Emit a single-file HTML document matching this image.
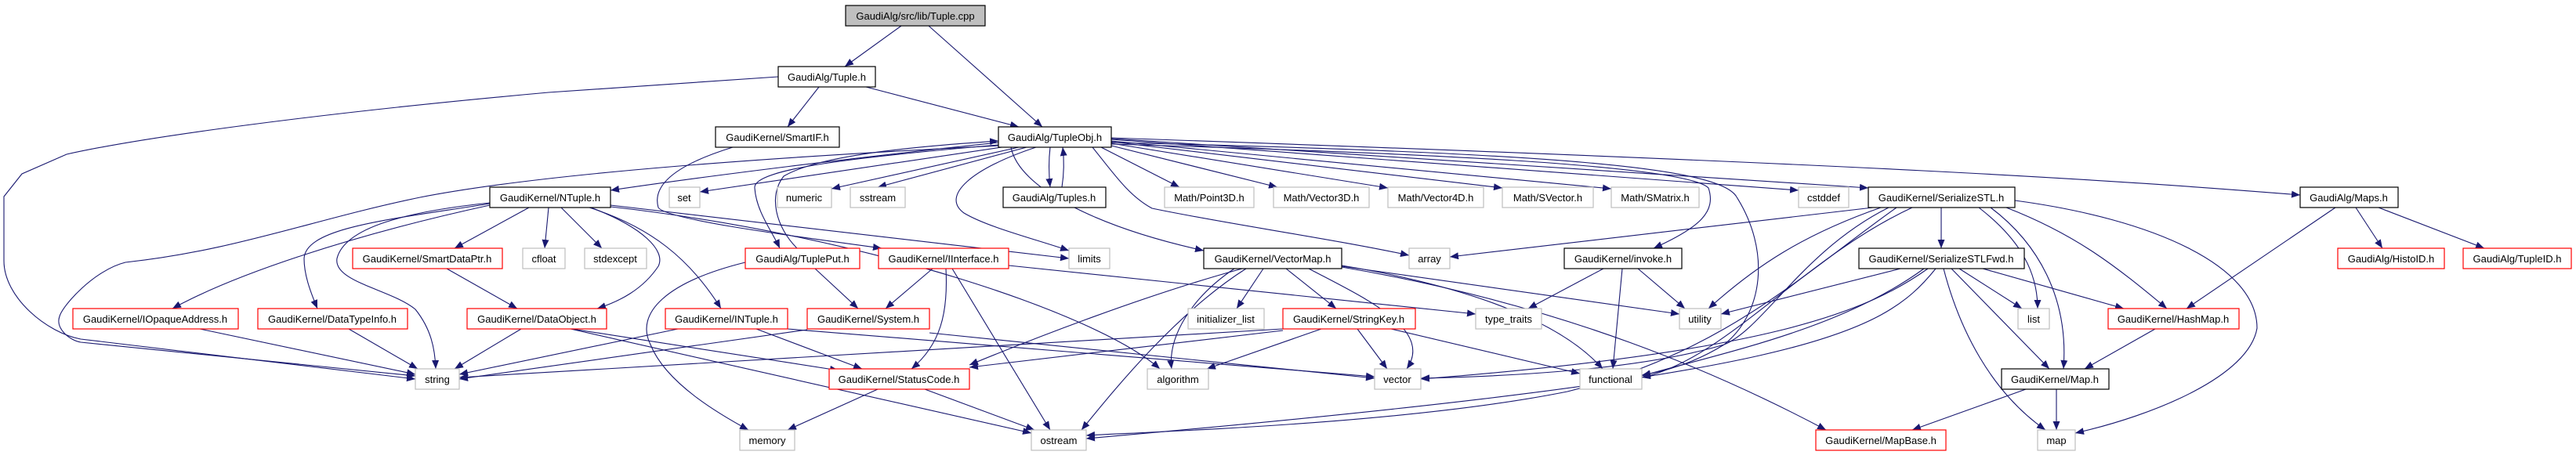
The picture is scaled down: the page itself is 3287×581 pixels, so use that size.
<!DOCTYPE html>
<html><head><meta charset="utf-8"><style>
html,body{margin:0;padding:0;background:#fff;}
svg{display:block;}
text{font-family:"Liberation Sans",Arial,sans-serif;font-size:13px;fill:#000;text-anchor:middle;}
.e{fill:none;stroke:#191970;stroke-width:1.1;marker-end:url(#a);}
.k{fill:#fff;stroke:#000;stroke-width:1.2;}
.r{fill:#fff;stroke:#ff0000;stroke-width:1.2;}
.g{fill:#fff;stroke:#bfbfbf;stroke-width:1.2;}
</style></head><body>
<svg width="3287" height="581" viewBox="0 0 3287 581" xmlns="http://www.w3.org/2000/svg">
<defs><marker id="a" markerUnits="userSpaceOnUse" markerWidth="11" markerHeight="9" refX="11" refY="4.5" orient="auto"><path d="M0,0 L11,4.5 L0,9 z" fill="#191970"/></marker></defs>
<g>
<path class="e" d="M1150,33 L1078,85"/>
<path class="e" d="M1185,33 L1330,162"/>
<path class="e" d="M1045,111 L1005,162"/>
<path class="e" d="M1105,111 L1300,162"/>
<path class="e" d="M993,98 L700,118 C400,145 178,176 85,197 L28,222 L5,251 L5,333 C5,380 60,425 103,433 L530,484"/>
<path class="e" d="M935,188 C880,205 830,230 840,265 C850,280 1000,300 1125,317"/>
<path class="e" d="M1274,182 C1100,200 900,225 779,243"/>
<path class="e" d="M1285,187 L893,245"/>
<path class="e" d="M1300,188 L1061,241"/>
<path class="e" d="M1310,188 L1120,239"/>
<path class="e" d="M1340,188 C1338,205 1338,220 1340,239"/>
<path class="e" d="M1355,239 C1358,220 1358,205 1356,188"/>
<path class="e" d="M1405,188 L1505,239"/>
<path class="e" d="M1418,186 L1630,239"/>
<path class="e" d="M1418,183 L1771,240"/>
<path class="e" d="M1418,181 L1917,240"/>
<path class="e" d="M1418,180 L2056,241"/>
<path class="e" d="M1418,178 L2295,243"/>
<path class="e" d="M1418,177 L2384,240"/>
<path class="e" d="M1418,176 C2400,210 2700,230 2935,249"/>
<path class="e" d="M1322,188 C1240,215 1200,250 1230,272 C1260,290 1320,305 1364,320"/>
<path class="e" d="M1274,185 C1100,200 960,215 963,240 C965,270 985,295 995,317"/>
<path class="e" d="M1017,317 C990,290 980,250 1000,225 C1050,195 1200,185 1274,180"/>
<path class="e" d="M1290,188 C1300,240 1400,290 1536,320"/>
<path class="e" d="M1394,188 C1420,220 1440,250 1470,266 C1560,285 1700,305 1798,326"/>
<path class="e" d="M1418,184 C1800,195 2150,210 2180,240 C2190,270 2170,290 2110,317"/>
<path class="e" d="M1418,182 C2000,195 2190,215 2215,250 C2260,320 2250,400 2200,440 C2160,465 2120,475 2095,479"/>
<path class="e" d="M1274,186 C1000,200 700,220 536,252 C400,280 300,320 160,335 C120,345 80,390 76,404 C70,420 90,435 103,437 L530,480"/>
<path class="e" d="M625,259 C520,270 440,290 430,330 C425,360 500,370 530,395 C550,420 555,445 556,471"/>
<path class="e" d="M625,262 C450,300 300,350 220,394"/>
<path class="e" d="M625,260 C500,280 390,290 388,330 C388,350 395,370 405,394"/>
<path class="e" d="M675,265 L580,317"/>
<path class="e" d="M700,265 L695,317"/>
<path class="e" d="M716,265 L768,317"/>
<path class="e" d="M754,265 C820,290 850,320 840,340 C820,370 790,385 762,394"/>
<path class="e" d="M752,265 C830,290 880,330 920,394"/>
<path class="e" d="M779,262 L1364,330"/>
<path class="e" d="M779,264 C1100,300 1400,400 1480,471"/>
<path class="e" d="M255,420 L530,478"/>
<path class="e" d="M445,420 L533,471"/>
<path class="e" d="M665,420 L580,471"/>
<path class="e" d="M730,420 L1070,473"/>
<path class="e" d="M728,420 L1316,553"/>
<path class="e" d="M570,343 L660,394"/>
<path class="e" d="M865,420 L586,478"/>
<path class="e" d="M965,420 L1100,471"/>
<path class="e" d="M1005,420 L1754,481"/>
<path class="e" d="M1030,421 L586,484"/>
<path class="e" d="M1186,425 L1754,483"/>
<path class="e" d="M1040,343 L1095,394"/>
<path class="e" d="M951,335 C850,360 810,400 830,440 C850,490 920,530 955,549"/>
<path class="e" d="M1190,343 L1130,394"/>
<path class="e" d="M1207,343 C1210,400 1200,440 1163,471"/>
<path class="e" d="M1215,343 L1340,549"/>
<path class="e" d="M1287,339 L1883,401"/>
<path class="e" d="M1120,497 L1005,549"/>
<path class="e" d="M1180,497 L1320,549"/>
<path class="e" d="M1612,343 L1578,394"/>
<path class="e" d="M1641,343 L1705,394"/>
<path class="e" d="M1670,343 C1740,380 1830,420 1795,471"/>
<path class="e" d="M1575,343 C1520,380 1490,430 1495,471"/>
<path class="e" d="M1585,343 C1450,380 1300,440 1237,466"/>
<path class="e" d="M1590,343 C1500,400 1420,500 1380,549"/>
<path class="e" d="M1712,339 C1900,370 2000,420 2045,471"/>
<path class="e" d="M1712,340 L2143,401"/>
<path class="e" d="M1712,341 C2000,390 2200,480 2330,549"/>
<path class="e" d="M1637,420 L586,482"/>
<path class="e" d="M1686,420 L1540,471"/>
<path class="e" d="M1732,420 L1770,471"/>
<path class="e" d="M1775,420 L2016,477"/>
<path class="e" d="M1637,422 L1237,469"/>
<path class="e" d="M2046,343 L1950,394"/>
<path class="e" d="M2070,343 L2058,471"/>
<path class="e" d="M2090,343 L2150,394"/>
<path class="e" d="M2477,265 L2477,317"/>
<path class="e" d="M2400,265 C2300,300 2240,340 2180,394"/>
<path class="e" d="M2390,265 L1850,328"/>
<path class="e" d="M2525,265 C2570,300 2600,340 2600,394"/>
<path class="e" d="M2540,265 C2600,310 2640,380 2633,471"/>
<path class="e" d="M2560,265 C2650,300 2700,340 2765,394"/>
<path class="e" d="M2571,256 C2750,280 2880,340 2880,419 C2870,480 2750,530 2648,553"/>
<path class="e" d="M2420,265 C2300,350 2200,450 2000,500 C1800,540 1500,550 1386,556"/>
<path class="e" d="M2410,265 C2300,320 2250,420 2200,440 C2100,470 1950,480 1813,483"/>
<path class="e" d="M2440,265 C2300,330 2200,460 2095,482"/>
<path class="e" d="M2425,343 L2196,401"/>
<path class="e" d="M2500,343 L2580,394"/>
<path class="e" d="M2530,343 L2710,394"/>
<path class="e" d="M2490,343 L2615,471"/>
<path class="e" d="M2480,343 C2500,420 2540,500 2610,549"/>
<path class="e" d="M2460,343 C2380,400 2250,450 1813,484"/>
<path class="e" d="M2470,343 C2400,430 2300,480 1386,560"/>
<path class="e" d="M2455,343 C2350,420 2200,450 2095,480"/>
<path class="e" d="M2750,420 L2660,471"/>
<path class="e" d="M2585,497 L2440,549"/>
<path class="e" d="M2624,497 L2624,549"/>
<path class="e" d="M2980,265 L2790,394"/>
<path class="e" d="M3006,265 L3040,317"/>
<path class="e" d="M3035,265 L3170,317"/>
</g>
<g>
<rect x="1079" y="7" width="178" height="26" fill="#bfbfbf" stroke="#000" stroke-width="1.2"/><text x="1168" y="25">GaudiAlg/src/lib/Tuple.cpp</text>
<rect class="k" x="993" y="85" width="124" height="26"/><text x="1055" y="103">GaudiAlg/Tuple.h</text>
<rect class="k" x="913" y="162" width="158" height="26"/><text x="992" y="180">GaudiKernel/SmartIF.h</text>
<rect class="k" x="1274" y="162" width="144" height="26"/><text x="1346" y="180">GaudiAlg/TupleObj.h</text>

<rect class="k" x="625" y="239" width="154" height="26"/><text x="702" y="257">GaudiKernel/NTuple.h</text>
<rect class="g" x="854" y="239" width="39" height="26"/><text x="873" y="257">set</text>
<rect class="g" x="992" y="239" width="69" height="26"/><text x="1026" y="257">numeric</text>
<rect class="g" x="1085" y="239" width="70" height="26"/><text x="1120" y="257">sstream</text>
<rect class="k" x="1280" y="239" width="131" height="26"/><text x="1345" y="257">GaudiAlg/Tuples.h</text>
<rect class="g" x="1486" y="239" width="114" height="26"/><text x="1543" y="257">Math/Point3D.h</text>
<rect class="g" x="1625" y="239" width="122" height="26"/><text x="1686" y="257">Math/Vector3D.h</text>
<rect class="g" x="1771" y="239" width="122" height="26"/><text x="1832" y="257">Math/Vector4D.h</text>
<rect class="g" x="1917" y="239" width="116" height="26"/><text x="1975" y="257">Math/SVector.h</text>
<rect class="g" x="2056" y="239" width="112" height="26"/><text x="2112" y="257">Math/SMatrix.h</text>
<rect class="g" x="2295" y="239" width="64" height="26"/><text x="2327" y="257">cstddef</text>
<rect class="k" x="2384" y="239" width="187" height="26"/><text x="2477" y="257">GaudiKernel/SerializeSTL.h</text>
<rect class="k" x="2935" y="239" width="125" height="26"/><text x="2997" y="257">GaudiAlg/Maps.h</text>

<rect class="r" x="450" y="317" width="191" height="26"/><text x="545" y="335">GaudiKernel/SmartDataPtr.h</text>
<rect class="g" x="667" y="317" width="54" height="26"/><text x="694" y="335">cfloat</text>
<rect class="g" x="746" y="317" width="79" height="26"/><text x="785" y="335">stdexcept</text>
<rect class="r" x="951" y="317" width="146" height="26"/><text x="1024" y="335">GaudiAlg/TuplePut.h</text>
<rect class="r" x="1121" y="317" width="166" height="26"/><text x="1204" y="335">GaudiKernel/IInterface.h</text>
<rect class="g" x="1364" y="317" width="52" height="26"/><text x="1390" y="335">limits</text>
<rect class="k" x="1536" y="317" width="176" height="26"/><text x="1624" y="335">GaudiKernel/VectorMap.h</text>
<rect class="g" x="1798" y="317" width="52" height="26"/><text x="1824" y="335">array</text>
<rect class="k" x="1996" y="317" width="150" height="26"/><text x="2071" y="335">GaudiKernel/invoke.h</text>
<rect class="k" x="2372" y="317" width="211" height="26"/><text x="2477" y="335">GaudiKernel/SerializeSTLFwd.h</text>
<rect class="r" x="2983" y="317" width="136" height="26"/><text x="3051" y="335">GaudiAlg/HistoID.h</text>
<rect class="r" x="3143" y="317" width="138" height="26"/><text x="3212" y="335">GaudiAlg/TupleID.h</text>

<rect class="r" x="93" y="394" width="211" height="26"/><text x="198" y="412">GaudiKernel/IOpaqueAddress.h</text>
<rect class="r" x="329" y="394" width="191" height="26"/><text x="424" y="412">GaudiKernel/DataTypeInfo.h</text>
<rect class="r" x="596" y="394" width="178" height="26"/><text x="685" y="412">GaudiKernel/DataObject.h</text>
<rect class="r" x="849" y="394" width="156" height="26"/><text x="927" y="412">GaudiKernel/INTuple.h</text>
<rect class="r" x="1030" y="394" width="156" height="26"/><text x="1108" y="412">GaudiKernel/System.h</text>
<rect class="g" x="1516" y="394" width="97" height="26"/><text x="1564" y="412">initializer_list</text>
<rect class="r" x="1637" y="394" width="169" height="26"/><text x="1721" y="412">GaudiKernel/StringKey.h</text>
<rect class="g" x="1883" y="394" width="84" height="26"/><text x="1925" y="412">type_traits</text>
<rect class="g" x="2143" y="394" width="53" height="26"/><text x="2169" y="412">utility</text>
<rect class="g" x="2575" y="394" width="40" height="26"/><text x="2595" y="412">list</text>
<rect class="r" x="2690" y="394" width="167" height="26"/><text x="2773" y="412">GaudiKernel/HashMap.h</text>

<rect class="g" x="530" y="471" width="56" height="26"/><text x="558" y="489">string</text>
<rect class="r" x="1058" y="471" width="179" height="26"/><text x="1147" y="489">GaudiKernel/StatusCode.h</text>
<rect class="g" x="1464" y="471" width="78" height="26"/><text x="1503" y="489">algorithm</text>
<rect class="g" x="1754" y="471" width="59" height="26"/><text x="1783" y="489">vector</text>
<rect class="g" x="2016" y="471" width="79" height="26"/><text x="2055" y="489">functional</text>
<rect class="k" x="2554" y="471" width="137" height="26"/><text x="2622" y="489">GaudiKernel/Map.h</text>

<rect class="g" x="944" y="549" width="70" height="26"/><text x="979" y="567">memory</text>
<rect class="g" x="1316" y="549" width="70" height="26"/><text x="1351" y="567">ostream</text>
<rect class="r" x="2317" y="549" width="166" height="26"/><text x="2400" y="567">GaudiKernel/MapBase.h</text>
<rect class="g" x="2600" y="549" width="48" height="26"/><text x="2624" y="567">map</text>
</g>
</svg>
</body></html>
